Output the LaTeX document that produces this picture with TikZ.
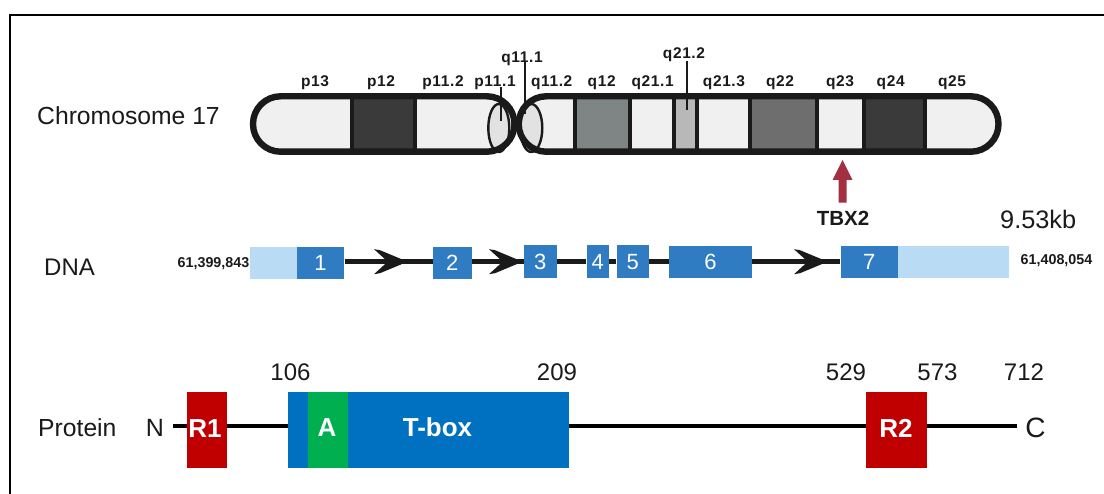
\documentclass[tikz,border=0pt]{standalone}
\usepackage{fontspec}
\setmainfont{Liberation Sans}
\newfontfamily\bandfont[LetterSpace=4]{Liberation Sans}
\newcommand{\px}[1]{\fontsize{#1}{#1}\selectfont}
\definecolor{inkblack}{HTML}{1A1A1A}
\definecolor{bandlight}{HTML}{F0F0F0}
\definecolor{banddark}{HTML}{3A3A3A}
\definecolor{bandmid}{HTML}{7F8485}
\definecolor{bandpale}{HTML}{B8B8B8}
\definecolor{bandgrey}{HTML}{6E6E6E}
\definecolor{cenfill}{HTML}{E2E2E2}
\definecolor{markerred}{HTML}{A23040}
\definecolor{exonblue}{HTML}{2F7CC2}
\definecolor{utrblue}{HTML}{B9DBF4}
\definecolor{tboxblue}{HTML}{0070C0}
\definecolor{repred}{HTML}{C00000}
\definecolor{actgreen}{HTML}{00B050}
\tikzset{
  x=1pt, y=-1pt,
  rowlabel/.style={anchor=base west, inner sep=0pt, text=inkblack, font=\px{24.7}},
  bandlabel/.style={anchor=base, inner sep=0pt, text depth=3pt, text=inkblack, font=\bandfont\bfseries\px{15.5}},
  coordlabel/.style={anchor=base, inner sep=0pt, text=inkblack, font=\bfseries\px{14.3}},
  poslabel/.style={anchor=base, inner sep=0pt, text=inkblack, font=\px{24}},
  exon/.style={rectangle, fill=exonblue, inner sep=0pt, text=white, font=\px{22}},
  utr/.style={rectangle, fill=utrblue, inner sep=0pt},
  protbox/.style={rectangle, inner sep=0pt},
  protname/.style={anchor=base, inner sep=0pt, text=white, font=\bfseries\px{26}},
  armline/.style={draw=inkblack, line width=6.4pt},
  cenring/.style={draw=inkblack, line width=2.4pt, fill=cenfill},
  tick/.style={draw=inkblack, line width=1.6pt},
  dnaline/.style={draw=inkblack, line width=5pt},
  protline/.style={draw=black, line width=4.4pt},
  chevron/.pic={\fill[inkblack] (-30,-12.5) -- (-24,-11.5) -- (0,-1.5) -- (0,1.5) -- (-24,11.5) -- (-30,12.5) -- (-19,2.5) -- (-19,-2.5) -- cycle;}
}
\newcommand{\band}[3]{\fill[#3] (#1,99) rectangle (#2,149);}
\begin{document}
\begin{tikzpicture}
\useasboundingbox (0,0) rectangle (1104,494);
\fill[white] (0,0) rectangle (1104,494);

% outer frame, open on the right and at the bottom
\draw[black, line width=2pt] (10,494) -- (10,15) -- (1104,15);

% row titles
\node[rowlabel] (chrtitle) at (37,125) {Chromosome 17};
\node[rowlabel, font=\px{24}] (dnatitle) at (44,276) {DNA};
\node[rowlabel] (prottitle) at (38,437) {Protein};

% chromosome arms: light body
\fill[bandlight, rounded corners=27.6pt] (253,96.3) rectangle (514.5,151.7);
\fill[bandlight, rounded corners=27.6pt] (518.7,96.3) rectangle (998.5,151.7);

% chromosome bands
\band{350}{417}{inkblack}
\band{353.5}{413}{banddark}
\band{573}{631.5}{inkblack}
\band{577}{627.5}{bandmid}
\band{671.7}{699.3}{inkblack}
\band{675.7}{695}{bandpale}
\band{748.3}{819}{inkblack}
\band{752.3}{815}{bandgrey}
\band{861.7}{927}{inkblack}
\band{865.7}{923.3}{banddark}

% centromere rings
\draw[cenring] (498.8,128) ellipse (10.5pt and 24pt);
\draw[cenring] (531.3,128) ellipse (11pt and 24pt);

% chromosome arms: outline
\draw[armline, rounded corners=27.6pt] (253,96.3) rectangle (514.5,151.7);
\draw[armline, rounded corners=27.6pt] (518.7,96.3) rectangle (998.5,151.7);

% band labels
\node[bandlabel] (p13) at (315,87) {p13};
\node[bandlabel] (p12) at (381,87) {p12};
\node[bandlabel] (p112) at (443,87) {p11.2};
\node[bandlabel] (p111) at (495,87) {p11.1};
\node[bandlabel] (q111) at (522,62.5) {q11.1};
\node[bandlabel] (q112) at (551.7,87) {q11.2};
\node[bandlabel] (q12) at (601.7,87) {q12};
\node[bandlabel] (q211) at (652.7,87) {q21.1};
\node[bandlabel] (q212) at (684,58.3) {q21.2};
\node[bandlabel] (q213) at (724,87) {q21.3};
\node[bandlabel] (q22) at (780,87) {q22};
\node[bandlabel] (q23) at (840,87) {q23};
\node[bandlabel] (q24) at (890.7,87) {q24};
\node[bandlabel] (q25) at (952,87) {q25};

% ticks from labels down to their narrow bands
\coordinate (p111end) at (500.7,120.7);
\coordinate (q111end) at (525,114);
\coordinate (q212end) at (686.7,110);
\draw[tick] (p111.base -| p111end) -- (p111end);
\draw[tick] (q111.base -| q111end) -- (q111end);
\draw[tick] (q212.south -| q212end) -- (q212end);

% gene position marker
\node[anchor=base, inner sep=0pt, text=inkblack, font=\bfseries\px{20.5}] (tbx) at (843,225.5) {TBX2};
\coordinate (markertip) at (842.6,160);
\fill[markerred] (markertip) -- ++(10,20) -- ++(-6,0) -- ++(0,22.7) -- ++(-8,0) -- ++(0,-22.7) -- ++(-6,0) -- cycle;
\node[anchor=base west, inner sep=0pt, text=inkblack, font=\px{25.3}] (size) at (1000,229) {9.53kb};

% gene model
\coordinate (dnarow) at (0,261.7);
\node[coordlabel] (startpos) at (213.5,267.3) {61,399,843};
\node[coordlabel] (endpos) at (1056.5,264.3) {61,408,054};
\node[utr, minimum width=47pt, minimum height=32.6pt] (utr5) at (273.5,263) {};
\node[utr, minimum width=111.5pt, minimum height=32.6pt] (utr3) at (953.5,262) {};
\node[exon, minimum width=47.6pt, minimum height=32.6pt] (e1) at (320.5,263) {1};
\node[exon, minimum width=39pt, minimum height=32.6pt] (e2) at (452.2,263) {2};
\node[exon, minimum width=32.7pt, minimum height=33pt] (e3) at (540.3,261.8) {3};
\node[exon, minimum width=22.3pt, minimum height=33pt] (e4) at (597.8,261.8) {4};
\node[exon, minimum width=32.3pt, minimum height=33pt] (e5) at (632.8,261.8) {5};
\node[exon, minimum width=82.4pt, minimum height=32pt] (e6) at (710.5,261.7) {6};
\node[exon, minimum width=57.3pt, minimum height=32.6pt] (e7) at (869.3,262) {7};
\draw[dnaline] (e1.east |- dnarow) -- (e2.west |- dnarow);
\draw[dnaline] (e2.east |- dnarow) -- (e3.west |- dnarow);
\draw[dnaline] (e3.east |- dnarow) -- (e4.west |- dnarow);
\draw[dnaline] (e4.east |- dnarow) -- (e5.west |- dnarow);
\draw[dnaline] (e5.east |- dnarow) -- (e6.west |- dnarow);
\draw[dnaline] (e6.east |- dnarow) -- (e7.west |- dnarow);
\pic at (404,261.7) {chevron};
\pic at (519,261.7) {chevron};
\pic at (824,261.7) {chevron};

% protein domains
\coordinate (protrow) at (0,426);
\coordinate (nstart) at (173,426);
\coordinate (cend) at (1017,426);
\node[protbox, fill=repred, minimum width=40pt, minimum height=76pt] (r1) at (207,430) {};
\node[protbox, fill=tboxblue, minimum width=281pt, minimum height=76pt] (tbox) at (428.5,430) {};
\node[protbox, fill=actgreen, minimum width=40pt, minimum height=76pt] (adom) at (328,430) {};
\node[protbox, fill=repred, minimum width=61pt, minimum height=76pt] (r2) at (896.3,430) {};
\node[protname] (r1text) at (205,437.5) {R1};
\node[protname] (atext) at (327,436) {A};
\node[protname] (tboxtext) at (437.5,436.5) {T-box};
\node[protname] (r2text) at (896,438) {R2};
\draw[protline] (nstart) -- (r1.west |- protrow);
\draw[protline] (r1.east |- protrow) -- (tbox.west |- protrow);
\draw[protline] (tbox.east |- protrow) -- (r2.west |- protrow);
\draw[protline] (r2.east |- protrow) -- (cend);

% protein termini and residue numbers
\node[anchor=base, inner sep=0pt, text=inkblack, font=\px{25}] (nterm) at (155,437) {N};
\node[anchor=base, inner sep=0pt, text=inkblack, font=\px{28}] (cterm) at (1035.5,437.5) {C};
\node[poslabel] (n106) at (290.5,381) {106};
\node[poslabel] (n209) at (557,381) {209};
\node[poslabel] (n529) at (846,381) {529};
\node[poslabel] (n573) at (937.5,381) {573};
\node[poslabel] (n712) at (1024,381) {712};
\end{tikzpicture}
\end{document}
